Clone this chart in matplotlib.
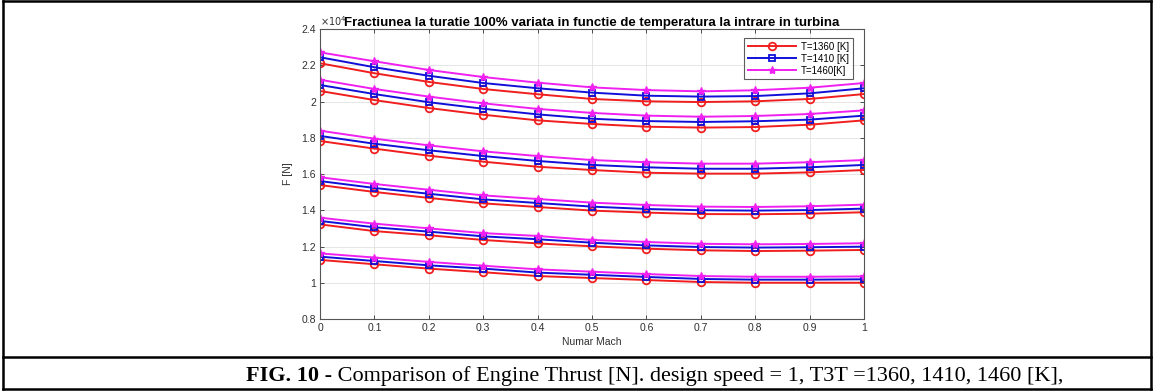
"""
Engine thrust vs flight Mach number for three turbine inlet temperatures
(six curve sets, MATLAB-style figure with a caption box underneath).
"""

import numpy as np
import matplotlib
matplotlib.use('Agg')
import matplotlib.pyplot as plt
from matplotlib.lines import Line2D
from matplotlib.ticker import FuncFormatter

# Mach number axis
mach = [0.0, 0.1, 0.2, 0.3, 0.4, 0.5, 0.6, 0.7, 0.8, 0.9, 1.0]

# Thrust [N], one list per curve set (bottom set first)
t1360_set1 = [11260, 11020, 10780, 10580, 10370, 10260, 10150, 10040, 10000, 10000, 10000]
t1410_set1 = [11440, 11200, 10960, 10780, 10560, 10440, 10320, 10210, 10170, 10170, 10190]
t1460_set1 = [11620, 11390, 11150, 10940, 10740, 10610, 10480, 10370, 10330, 10330, 10350]

t1360_set2 = [13220, 12850, 12620, 12360, 12170, 12010, 11880, 11790, 11750, 11770, 11810]
t1410_set2 = [13410, 13060, 12820, 12560, 12400, 12210, 12060, 11970, 11940, 11960, 11990]
t1460_set2 = [13590, 13260, 13000, 12740, 12580, 12360, 12250, 12150, 12120, 12140, 12180]

t1360_set3 = [15390, 15010, 14680, 14380, 14180, 13980, 13870, 13790, 13780, 13810, 13890]
t1410_set3 = [15610, 15230, 14910, 14600, 14400, 14200, 14070, 14000, 13980, 14010, 14090]
t1460_set3 = [15820, 15450, 15130, 14820, 14620, 14420, 14290, 14200, 14180, 14220, 14310]

t1360_set4 = [17820, 17400, 17010, 16680, 16400, 16220, 16070, 16020, 16020, 16090, 16220]
t1410_set4 = [18100, 17670, 17310, 16990, 16720, 16500, 16370, 16290, 16290, 16370, 16500]
t1460_set4 = [18390, 17950, 17580, 17250, 16990, 16770, 16650, 16570, 16570, 16650, 16770]

t1360_set5 = [20580, 20080, 19640, 19270, 18960, 18760, 18610, 18560, 18590, 18720, 18960]
t1410_set5 = [20910, 20410, 19960, 19600, 19290, 19050, 18920, 18870, 18910, 19000, 19220]
t1460_set5 = [21200, 20690, 20270, 19900, 19590, 19370, 19220, 19160, 19200, 19310, 19510]

t1360_set6 = [22110, 21560, 21080, 20690, 20400, 20140, 20010, 19970, 20010, 20140, 20410]
t1410_set6 = [22440, 21890, 21420, 21020, 20730, 20490, 20320, 20270, 20300, 20450, 20730]
t1460_set6 = [22710, 22220, 21740, 21350, 21040, 20780, 20630, 20560, 20620, 20760, 21020]

t1360 = [t1360_set1, t1360_set2, t1360_set3, t1360_set4, t1360_set5, t1360_set6]
t1410 = [t1410_set1, t1410_set2, t1410_set3, t1410_set4, t1410_set5, t1410_set6]
t1460 = [t1460_set1, t1460_set2, t1460_set3, t1460_set4, t1460_set5, t1460_set6]

legend_labels = ['T=1360 [K]', 'T=1410 [K]', 'T=1460[K]']
x_ticks = [0, 0.1, 0.2, 0.3, 0.4, 0.5, 0.6, 0.7, 0.8, 0.9, 1]
y_ticks = [8000, 10000, 12000, 14000, 16000, 18000, 20000, 22000, 24000]

W, H = 1154, 392
fig = plt.figure(figsize=(W / 100, H / 100), dpi=100)
fig.patch.set_facecolor('white')

ax = fig.add_axes([320 / W, 1 - 319 / H, 544 / W, 290 / H])

axis_col = '#303030'
red = '#f01e1e'
blue = '#1010d8'
magenta = '#f020f0'

for k in range(6):
    lab = (k == 5)
    ax.plot(mach, t1360[k], '-o', color=red, mfc='none', mec=red, ms=5.5, mew=1.3,
            lw=1.4, label=legend_labels[0] if lab else None)
    ax.plot(mach, t1410[k], '-s', color=blue, mfc='none', mec=blue, ms=5, mew=1.3,
            lw=1.4, label=legend_labels[1] if lab else None)
    ax.plot(mach, t1460[k], '-*', color=magenta, mfc=magenta, mec=magenta, ms=6, mew=1.0,
            lw=1.4, label=legend_labels[2] if lab else None)

ax.set_xlim(0, 1)
ax.set_ylim(8000, 24000)
ax.set_xticks(x_ticks)
ax.set_yticks(y_ticks)
ax.xaxis.set_major_formatter(FuncFormatter(lambda v, p: f'{v:g}'))
ax.yaxis.set_major_formatter(FuncFormatter(lambda v, p: f'{v / 1e4:g}'))
ax.tick_params(direction='in', length=3, width=0.6, colors=axis_col, labelsize=7.5,
               top=True, right=True, pad=3)
for lbl in ax.get_xticklabels() + ax.get_yticklabels():
    lbl.set_family('Liberation Sans')
for s in ax.spines.values():
    s.set_color('#555555')
    s.set_linewidth(0.8)
ax.grid(True, color='#e2e2e2', linewidth=0.6)
ax.set_axisbelow(True)

ax.set_xlabel('Numar Mach', fontsize=7.5, family='Liberation Sans', color=axis_col, labelpad=3)
ax.set_ylabel('F [N]', fontsize=7.5, family='Liberation Sans', color=axis_col, labelpad=6)
ax.set_title('Fractiunea la turatie 100% variata in functie de temperatura la intrare in turbina',
             fontsize=9.5, fontweight='bold', family='Liberation Sans', color='black', pad=2)
ax.text(0.0, 1.005, r'$\times10^4$', transform=ax.transAxes, fontsize=7, color=axis_col,
        ha='left', va='bottom')

leg = ax.legend(loc='upper right', bbox_to_anchor=(0.988, 0.985),
                prop={'family': 'Liberation Sans', 'size': 7}, frameon=True, fancybox=False,
                edgecolor='#333333', handlelength=5, borderpad=0.35, labelspacing=0.2,
                handletextpad=0.5)
leg.get_frame().set_linewidth(0.8)

# outer box and caption row
box = dict(color='black', linewidth=1.8, transform=fig.transFigure)
fig.add_artist(Line2D([3 / W, 1151 / W], [1 - 1 / H, 1 - 1 / H], **box))
fig.add_artist(Line2D([3 / W, 1151 / W], [1 - 389 / H, 1 - 389 / H], **box))
fig.add_artist(Line2D([3 / W, 1151 / W], [1 - 357 / H, 1 - 357 / H], **box))
fig.add_artist(Line2D([3 / W, 3 / W], [1 - 1 / H, 1 - 389 / H], **box))
fig.add_artist(Line2D([1151 / W, 1151 / W], [1 - 1 / H, 1 - 389 / H], **box))

cap_y = 1 - 381 / H
t_bold = fig.text(246 / W, cap_y, 'FIG. 10', fontsize=16, fontweight='bold',
                  family='Liberation Serif', va='baseline', ha='left')
renderer = fig.canvas.get_renderer()
bb = t_bold.get_window_extent(renderer)
fig.text(bb.x1 / W, cap_y, ' - Comparison of Engine Thrust [N]. design speed = 1, T3T =1360, 1410, 1460 [K],',
         fontsize=16, family='Liberation Serif', va='baseline', ha='left')

fig.savefig('out.png', dpi=100)
